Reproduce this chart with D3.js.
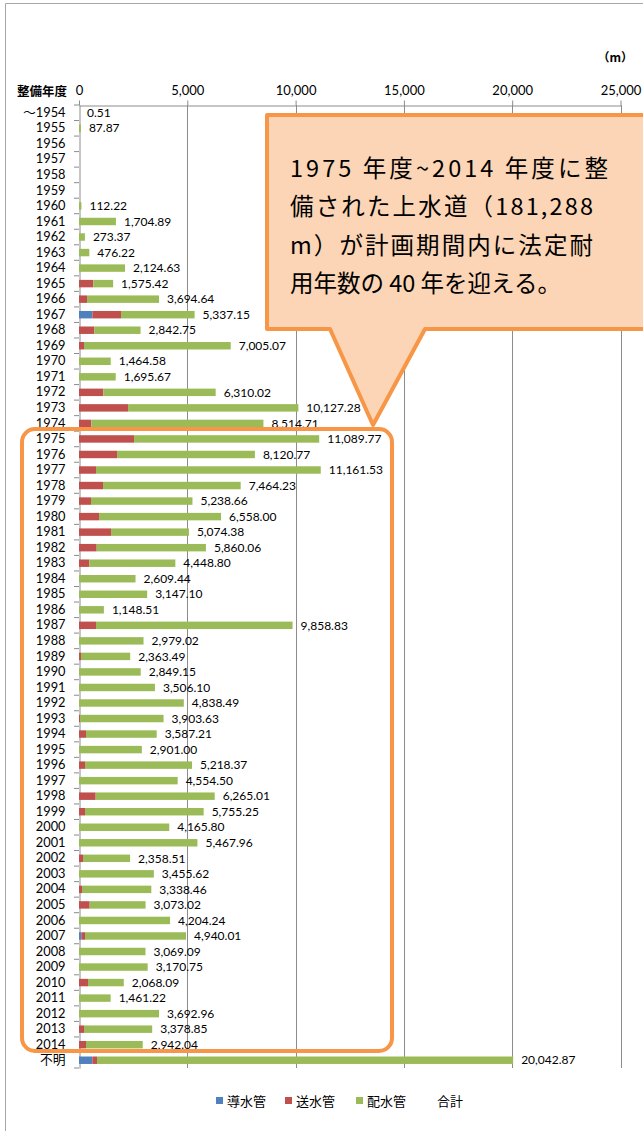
<!DOCTYPE html>
<html>
<head>
<meta charset="utf-8">
<script src="https://cdn.jsdelivr.net/npm/d3@7"></script>
<style>
  body { margin: 0; background: #fff; }
  text { font-family: "Noto Sans CJK JP", "Noto Sans", sans-serif; fill: #000; }
  .num { font-family: Lato, "Noto Sans CJK JP", sans-serif; }
</style>
</head>
<body>
<div id="chart"></div>
<script>
// 整備年度
const years = ["～1954","1955","1956","1957","1958","1959","1960","1961","1962","1963",
  "1964","1965","1966","1967","1968","1969","1970","1971","1972","1973",
  "1974","1975","1976","1977","1978","1979","1980","1981","1982","1983",
  "1984","1985","1986","1987","1988","1989","1990","1991","1992","1993",
  "1994","1995","1996","1997","1998","1999","2000","2001","2002","2003",
  "2004","2005","2006","2007","2008","2009","2010","2011","2012","2013",
  "2014","不明"];

// 導水管 (m)
const dousui = [0,0,0,0,0,0,0,0,0,0,
  0,0,0,616,0,0,0,0,0,0,
  0,0,0,0,0,0,0,0,0,0,
  0,0,0,0,0,0,0,0,0,0,
  0,0,0,0,0,0,0,0,0,0,
  0,0,0,108,0,0,0,0,0,0,
  0,616];

// 送水管 (m)
const sousui = [0,0,0,0,0,0,0,0,0,0,
  0,662,370,1324,708,231,0,0,1124,2264,
  570,2541,1756,785,1109,554,924,1478,816,477,
  0,0,0,785,0,92,0,0,0,46,
  323,0,277,0,770,277,0,0,185,0,
  139,493,0,169,0,0,416,0,0,231,
  323,216];

// 配水管 (m)
const haisui = [0.51,87.87,0,0,0,0,112.22,1704.89,273.37,476.22,
  2124.63,913.42,3324.64,3397.15,2134.75,6774.07,1464.58,1695.67,5186.02,7863.28,
  7944.71,8548.77,6364.77,10376.53,6355.23,4684.66,5634.00,3596.38,5044.06,3971.80,
  2609.44,3147.10,1148.51,9073.83,2979.02,2271.49,2849.15,3506.10,4838.49,3857.63,
  3264.21,2901.00,4941.37,4554.50,5495.01,5478.25,4165.80,5467.96,2173.51,3455.62,
  3199.46,2580.02,4204.24,4663.01,3069.09,3170.75,1652.09,1461.22,3692.96,3147.85,
  2619.04,19210.87];

// 合計 (data labels)
const totals = [0.51,87.87,null,null,null,null,112.22,1704.89,273.37,476.22,
  2124.63,1575.42,3694.64,5337.15,2842.75,7005.07,1464.58,1695.67,6310.02,10127.28,
  8514.71,11089.77,8120.77,11161.53,7464.23,5238.66,6558.00,5074.38,5860.06,4448.80,
  2609.44,3147.10,1148.51,9858.83,2979.02,2363.49,2849.15,3506.10,4838.49,3903.63,
  3587.21,2901.00,5218.37,4554.50,6265.01,5755.25,4165.80,5467.96,2358.51,3455.62,
  3338.46,3073.02,4204.24,4940.01,3069.09,3170.75,2068.09,1461.22,3692.96,3378.85,
  2942.04,20042.87];

const xTicks = [0, 5000, 10000, 15000, 20000, 25000];
const seriesNames = ["導水管", "送水管", "配水管"];
const colors = ["#4F81BD", "#C0504D", "#9BBB59"];

const width = 643, height = 1131;
const svg = d3.select("#chart").append("svg")
  .attr("width", width)
  .attr("height", height);

// chart area border
svg.append("path")
  .attr("d", "M5.5,1131 V3.5 H643")
  .attr("fill", "none")
  .attr("stroke", "#a6a6a6")
  .attr("stroke-width", 1);

const table = years.map((y, i) => ({year: y, 導水管: dousui[i], 送水管: sousui[i], 配水管: haisui[i], total: totals[i]}));

const x = d3.scaleLinear().domain([0, 25000]).range([79, 620.5]);
const y = d3.scaleBand().domain(years).range([105, 1068]).paddingInner(0.52).paddingOuter(0.26);

// gridlines
svg.append("g")
  .selectAll("line")
  .data(xTicks.slice(1))
  .join("line")
  .attr("x1", d => Math.round(x(d)) + 0.5)
  .attr("x2", d => Math.round(x(d)) + 0.5)
  .attr("y1", 105)
  .attr("y2", 1068)
  .attr("stroke", "#8c8c8c")
  .attr("stroke-width", 1);

// top axis
const xAxis = svg.append("g")
  .attr("transform", "translate(0,105.5)")
  .call(d3.axisTop(x).tickValues(xTicks).tickSize(5).tickSizeOuter(0).tickPadding(6).tickFormat(d3.format(",")));
xAxis.select(".domain").attr("stroke", "#8c8c8c");
xAxis.selectAll(".tick line").attr("stroke", "#8c8c8c");
xAxis.selectAll(".tick text").attr("class", "num").attr("font-size", 13).attr("font-family", null);

// left axis
const yAxis = svg.append("g")
  .attr("transform", "translate(79.5,0)")
  .call(d3.axisLeft(y).tickSize(0).tickPadding(14));
yAxis.select(".domain").attr("stroke", "#8c8c8c");
yAxis.selectAll(".tick text").attr("class", "num").attr("font-size", 12.8).attr("font-family", null);

// category separator ticks
svg.append("g")
  .selectAll("line")
  .data(d3.range(years.length + 1))
  .join("line")
  .attr("x1", 74)
  .attr("x2", 79)
  .attr("y1", i => y.range()[0] + i * y.step())
  .attr("y2", i => y.range()[0] + i * y.step())
  .attr("stroke", "#8c8c8c");

// stacked bars
const stack = d3.stack().keys(seriesNames)(table);
svg.append("g")
  .selectAll("g")
  .data(stack)
  .join("g")
  .attr("fill", (d, i) => colors[i])
  .selectAll("rect")
  .data(d => d)
  .join("rect")
  .attr("x", d => x(d[0]))
  .attr("y", d => y(d.data.year))
  .attr("width", d => x(d[1]) - x(d[0]))
  .attr("height", y.bandwidth());

// total labels
const fmt = d3.format(",.2f");
svg.append("g")
  .selectAll("text")
  .data(table.filter(d => d.total != null))
  .join("text")
  .attr("class", "num")
  .attr("x", d => x(d.total) + 8)
  .attr("y", d => y(d.year) + y.bandwidth() / 2)
  .attr("dy", "0.35em")
  .attr("font-size", 12)
  .text(d => fmt(d.total));

// axis titles
svg.append("text")
  .attr("x", 17).attr("y", 96)
  .attr("font-size", 12.5)
  .attr("font-weight", "bold")
  .text("整備年度");
svg.append("text")
  .attr("x", 633).attr("y", 62)
  .attr("text-anchor", "end")
  .attr("font-size", 12)
  .attr("font-weight", "bold")
  .text("（m）");

// highlight frame 1975-2014
svg.append("rect")
  .attr("x", 22).attr("y", 429)
  .attr("width", 370).attr("height", 622)
  .attr("rx", 13)
  .attr("fill", "none")
  .attr("stroke", "#F79646")
  .attr("stroke-width", 4);

// callout
svg.append("path")
  .attr("d", "M267,115 H650 V329 H425 L373,425 L330,329 H267 Z")
  .attr("fill", "#FBD5B5")
  .attr("stroke", "#F79646")
  .attr("stroke-width", 4)
  .attr("stroke-linejoin", "round");

const calloutLines = [
  {t: "1975 年度~2014 年度に整", w: 318},
  {t: "備された上水道（181,288", w: 303},
  {t: "m）が計画期間内に法定耐", w: 303},
  {t: "用年数の 40 年を迎える。", w: null}
];
svg.append("g")
  .selectAll("text")
  .data(calloutLines)
  .join("text")
  .attr("x", 290)
  .attr("y", (d, i) => 177 + i * 38.3)
  .attr("font-size", 23.5)
  .attr("textLength", d => d.w)
  .attr("lengthAdjust", "spacing")
  .text(d => d.t);

// legend
const legendItems = [
  {name: "導水管", color: colors[0], x: 216},
  {name: "送水管", color: colors[1], x: 285},
  {name: "配水管", color: colors[2], x: 356},
  {name: "合計", color: null, x: 426}
];
const legend = svg.append("g");
legendItems.forEach(d => {
  if (d.color) {
    legend.append("rect")
      .attr("x", d.x).attr("y", 1097)
      .attr("width", 7).attr("height", 7)
      .attr("fill", d.color);
  }
  legend.append("text")
    .attr("x", d.x + 11).attr("y", 1105.5)
    .attr("font-size", 13)
    .text(d.name);
});
</script>
</body>
</html>
